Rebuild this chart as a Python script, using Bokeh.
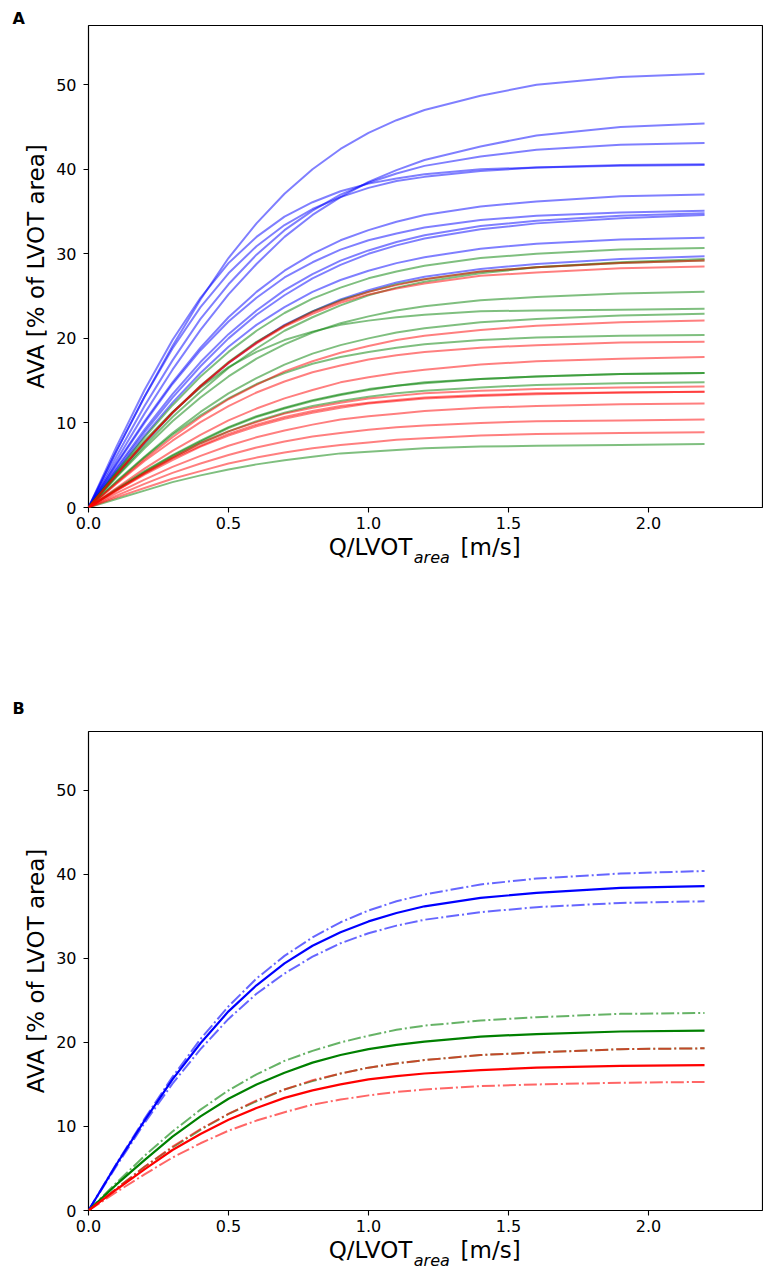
from bokeh.plotting import figure
from bokeh.layouts import column
from bokeh.models import Range1d, FixedTicker, PrintfTickFormatter, LinearAxis
from bokeh.embed import file_html
from bokeh.resources import INLINE

# Flow rate samples, Q/LVOT_area [m/s]
X = [0, 0.1, 0.2, 0.3, 0.4, 0.5, 0.6, 0.7, 0.8, 0.9, 1.0, 1.1, 1.2, 1.4, 1.6, 1.9, 2.2]

# Panel A: AVA [% of LVOT area], one list per patient curve
A_blue = [
    [0, 6.7, 13.1, 19.1, 24.6, 29.5, 33.6, 37.1, 40.0, 42.4, 44.3, 45.8, 47.0, 48.7, 50.0, 50.9, 51.3],
    [0, 5.6, 11.1, 16.3, 21.0, 25.2, 28.8, 32.0, 34.6, 36.7, 38.5, 39.9, 41.1, 42.7, 44.0, 45.0, 45.4],
    [0, 6.1, 12.0, 17.4, 22.3, 26.4, 29.9, 32.8, 35.1, 37.0, 38.4, 39.5, 40.4, 41.5, 42.3, 42.9, 43.1],
    [0, 6.7, 13.1, 18.8, 23.7, 27.7, 30.9, 33.4, 35.3, 36.7, 37.8, 38.6, 39.1, 39.8, 40.2, 40.5, 40.6],
    [0, 7.2, 13.9, 19.8, 24.8, 28.9, 32.0, 34.4, 36.1, 37.4, 38.3, 38.9, 39.4, 40.0, 40.2, 40.4, 40.5],
    [0, 5.2, 10.2, 14.8, 18.9, 22.5, 25.5, 28.0, 30.0, 31.6, 32.8, 33.8, 34.6, 35.6, 36.2, 36.8, 37.0],
    [0, 5.1, 10.0, 14.6, 18.6, 22.0, 24.8, 27.2, 29.0, 30.5, 31.6, 32.4, 33.1, 34.0, 34.5, 34.9, 35.1],
    [0, 4.7, 9.2, 13.4, 17.2, 20.5, 23.3, 25.7, 27.6, 29.2, 30.4, 31.4, 32.2, 33.3, 33.9, 34.5, 34.8],
    [0, 4.5, 8.9, 13.0, 16.7, 20.0, 22.8, 25.1, 27.1, 28.7, 30.0, 31.0, 31.8, 32.9, 33.6, 34.2, 34.6],
    [0, 4.3, 8.5, 12.4, 15.9, 19.0, 21.6, 23.7, 25.5, 26.9, 28.0, 28.9, 29.6, 30.6, 31.2, 31.7, 31.9],
    [0, 3.9, 7.6, 11.2, 14.3, 17.1, 19.5, 21.6, 23.2, 24.6, 25.7, 26.6, 27.3, 28.2, 28.8, 29.4, 29.7],
]
A_green = [
    [0, 4.2, 8.3, 12.1, 15.5, 18.4, 20.9, 23.0, 24.7, 26.0, 27.1, 27.9, 28.6, 29.5, 30.0, 30.5, 30.7],
    [0, 3.7, 7.3, 10.7, 13.7, 16.5, 18.8, 20.9, 22.5, 23.9, 25.1, 26.0, 26.7, 27.7, 28.4, 29.0, 29.4],
    [0, 3.9, 7.7, 11.2, 14.4, 17.2, 19.6, 21.5, 23.2, 24.5, 25.5, 26.4, 27.0, 27.9, 28.4, 28.9, 29.2],
    [0, 3.6, 7.0, 10.2, 13.0, 15.5, 17.6, 19.3, 20.7, 21.8, 22.6, 23.3, 23.8, 24.5, 24.9, 25.3, 25.5],
    [0, 4.1, 7.9, 11.3, 14.2, 16.6, 18.4, 19.8, 20.8, 21.6, 22.1, 22.5, 22.8, 23.2, 23.3, 23.4, 23.5],
    [0, 3.1, 6.0, 8.8, 11.3, 13.5, 15.3, 16.9, 18.2, 19.2, 20.0, 20.7, 21.2, 21.9, 22.3, 22.7, 22.9],
    [0, 3.0, 5.9, 8.6, 10.9, 12.9, 14.6, 15.9, 17.0, 17.8, 18.4, 18.9, 19.3, 19.8, 20.1, 20.3, 20.4],
    [0, 2.2, 4.3, 6.2, 7.9, 9.5, 10.8, 11.8, 12.7, 13.4, 14.0, 14.4, 14.8, 15.2, 15.5, 15.8, 15.9],
    [0, 2.1, 4.2, 6.1, 7.8, 9.4, 10.7, 11.7, 12.6, 13.3, 13.9, 14.4, 14.7, 15.2, 15.5, 15.8, 15.9],
    [0, 2.1, 4.1, 5.9, 7.6, 9.0, 10.2, 11.2, 12.0, 12.6, 13.1, 13.5, 13.8, 14.2, 14.5, 14.7, 14.8],
    [0, 1.0, 2.0, 3.0, 3.8, 4.5, 5.1, 5.6, 6.0, 6.4, 6.6, 6.8, 7.0, 7.2, 7.3, 7.4, 7.5],
]
A_red = [
    [0, 3.9, 7.7, 11.2, 14.3, 17.1, 19.5, 21.5, 23.1, 24.4, 25.5, 26.3, 27.0, 27.9, 28.4, 28.9, 29.2],
    [0, 3.9, 7.7, 11.2, 14.4, 17.1, 19.4, 21.4, 22.9, 24.2, 25.2, 25.9, 26.5, 27.4, 27.8, 28.3, 28.5],
    [0, 2.9, 5.7, 8.3, 10.7, 12.8, 14.5, 16.1, 17.3, 18.3, 19.1, 19.8, 20.3, 21.0, 21.5, 21.9, 22.1],
    [0, 2.8, 5.5, 7.9, 10.1, 12.0, 13.6, 14.9, 16.0, 16.8, 17.5, 18.0, 18.4, 18.9, 19.2, 19.5, 19.6],
    [0, 2.3, 4.6, 6.7, 8.6, 10.3, 11.7, 12.9, 13.9, 14.8, 15.4, 15.9, 16.3, 16.9, 17.3, 17.6, 17.8],
    [0, 2.1, 4.1, 5.9, 7.6, 9.0, 10.1, 11.1, 11.8, 12.4, 12.9, 13.2, 13.5, 13.8, 14.0, 14.2, 14.3],
    [0, 2.0, 4.0, 5.8, 7.3, 8.7, 9.8, 10.7, 11.4, 12.0, 12.4, 12.7, 13.0, 13.3, 13.5, 13.6, 13.7],
    [0, 2.0, 3.9, 5.6, 7.2, 8.5, 9.6, 10.5, 11.2, 11.8, 12.3, 12.6, 12.9, 13.2, 13.4, 13.6, 13.7],
    [0, 1.7, 3.3, 4.8, 6.1, 7.3, 8.3, 9.1, 9.8, 10.4, 10.8, 11.1, 11.4, 11.8, 12.0, 12.2, 12.3],
    [0, 1.4, 2.8, 4.1, 5.2, 6.2, 7.1, 7.8, 8.4, 8.8, 9.2, 9.5, 9.7, 10.0, 10.2, 10.3, 10.4],
    [0, 1.2, 2.3, 3.4, 4.3, 5.2, 5.9, 6.5, 7.0, 7.4, 7.7, 8.0, 8.2, 8.5, 8.7, 8.8, 8.9],
]

# Panel B: group curve (solid) and its bounds (dash-dot)
B_blue_mid = [0, 5.5, 10.7, 15.6, 19.9, 23.7, 26.8, 29.4, 31.5, 33.1, 34.4, 35.4, 36.2, 37.2, 37.8, 38.4, 38.6]
B_blue_up = [0, 5.6, 10.9, 15.9, 20.4, 24.3, 27.6, 30.3, 32.5, 34.3, 35.7, 36.8, 37.6, 38.8, 39.5, 40.1, 40.4]
B_blue_lo = [0, 5.3, 10.4, 15.1, 19.2, 22.8, 25.8, 28.2, 30.2, 31.8, 33.0, 33.9, 34.6, 35.5, 36.1, 36.6, 36.8]
B_green_mid = [0, 3.1, 6.0, 8.8, 11.2, 13.3, 15.0, 16.4, 17.6, 18.5, 19.2, 19.7, 20.1, 20.7, 21.0, 21.3, 21.4]
B_green_up = [0, 3.3, 6.5, 9.4, 12.0, 14.3, 16.2, 17.8, 19.0, 20.0, 20.8, 21.5, 22.0, 22.6, 23.0, 23.4, 23.5]
B_green_lo = [0, 2.6, 5.2, 7.5, 9.6, 11.5, 13.0, 14.4, 15.4, 16.3, 17.0, 17.5, 17.9, 18.5, 18.8, 19.2, 19.3]
B_red_mid = [0, 2.5, 4.9, 7.2, 9.1, 10.8, 12.2, 13.4, 14.3, 15.0, 15.6, 16.0, 16.3, 16.7, 17.0, 17.2, 17.3]
B_red_up = [0, 2.6, 5.2, 7.6, 9.7, 11.5, 13.1, 14.4, 15.5, 16.3, 17.0, 17.5, 17.9, 18.5, 18.8, 19.2, 19.3]
B_red_lo = [0, 2.2, 4.3, 6.3, 8.0, 9.5, 10.7, 11.7, 12.6, 13.2, 13.7, 14.1, 14.4, 14.8, 15.0, 15.2, 15.3]

X_TICKS = [0, 0.5, 1.0, 1.5, 2.0]
Y_TICKS = [0, 10, 20, 30, 40, 50]

# x-axis title pieces: "Q/LVOT" + italic subscript "area" + "[m/s]"
XLABEL_MAIN = {1.007: "Q/LVOT", 1.436: "[m/s]"}
XLABEL_SUB = {1.226: "area"}

BLUE, GREEN, RED = "#0000ff", "#008000", "#ff0000"
FONT = "DejaVu Sans"
XMAX, YMAX = 2.407, 57


def make_panel(letter, h, top, bottom, title_standoff):
    p = figure(width=763, height=h, x_range=Range1d(0, XMAX), y_range=Range1d(0, YMAX),
               output_backend="svg", toolbar_location=None,
               min_border_left=88, min_border_right=1,
               min_border_top=top, min_border_bottom=bottom)
    p.grid.visible = False
    p.outline_line_color = "black"
    p.outline_line_width = 1.2
    p.outline_line_alpha = 1

    p.title.text = letter
    p.title.align = "left"
    p.title.offset = -76
    p.title.standoff = title_standoff
    p.title.text_font = FONT
    p.title.text_font_size = "16px"
    p.title.text_font_style = "bold"
    p.title.text_color = "black"

    p.xaxis.ticker = FixedTicker(ticks=X_TICKS)
    p.xaxis.formatter = PrintfTickFormatter(format="%.1f")
    p.yaxis.ticker = FixedTicker(ticks=Y_TICKS)
    for ax in (p.xaxis, p.yaxis):
        ax.axis_line_color = None
        ax.major_tick_out = 5
        ax.major_tick_in = 0
        ax.minor_tick_line_color = None
        ax.major_tick_line_color = "black"
        ax.major_tick_line_width = 1.1
        ax.major_label_text_font = FONT
        ax.major_label_text_font_size = "16px"
        ax.major_label_text_color = "black"
    p.xaxis.major_label_standoff = 4
    p.yaxis.major_label_standoff = 7
    p.yaxis.axis_label = "AVA [% of LVOT area]"
    p.yaxis.axis_label_text_font = FONT
    p.yaxis.axis_label_text_font_size = "23px"
    p.yaxis.axis_label_text_font_style = "normal"
    p.yaxis.axis_label_text_color = "black"
    p.yaxis.axis_label_standoff = 4

    # x-axis title as two extra label-only axes
    for labels, size, style, standoff in ((XLABEL_MAIN, "23px", "normal", 2),
                                          (XLABEL_SUB, "16px", "italic", -15)):
        ax = LinearAxis(ticker=FixedTicker(ticks=list(labels.keys())),
                        major_label_overrides=labels)
        ax.axis_line_color = None
        ax.major_tick_line_color = None
        ax.minor_tick_line_color = None
        ax.major_tick_out = 0
        ax.major_tick_in = 0
        ax.major_label_standoff = standoff
        ax.major_label_text_font = FONT
        ax.major_label_text_font_size = size
        ax.major_label_text_font_style = style
        ax.major_label_text_color = "black"
        p.add_layout(ax, "below")
    return p


pA = make_panel("A", 619, 25, 112, -4)
for series, col in ((A_blue, BLUE), (A_green, GREEN), (A_red, RED)):
    for ys in series:
        pA.line(X, ys, line_color=col, line_alpha=0.5, line_width=2)

pB = make_panel("B", 653, 112, 60, 27)
for mid, up, lo, col in ((B_blue_mid, B_blue_up, B_blue_lo, BLUE),
                         (B_green_mid, B_green_up, B_green_lo, GREEN),
                         (B_red_mid, B_red_up, B_red_lo, RED)):
    pB.line(X, mid, line_color=col, line_alpha=1, line_width=2.2)
    for ys in (up, lo):
        pB.line(X, ys, line_color=col, line_alpha=0.6, line_width=2, line_dash="13 3 2 3")

open("out.html", "w").write(file_html(column(pA, pB, spacing=0), INLINE))
